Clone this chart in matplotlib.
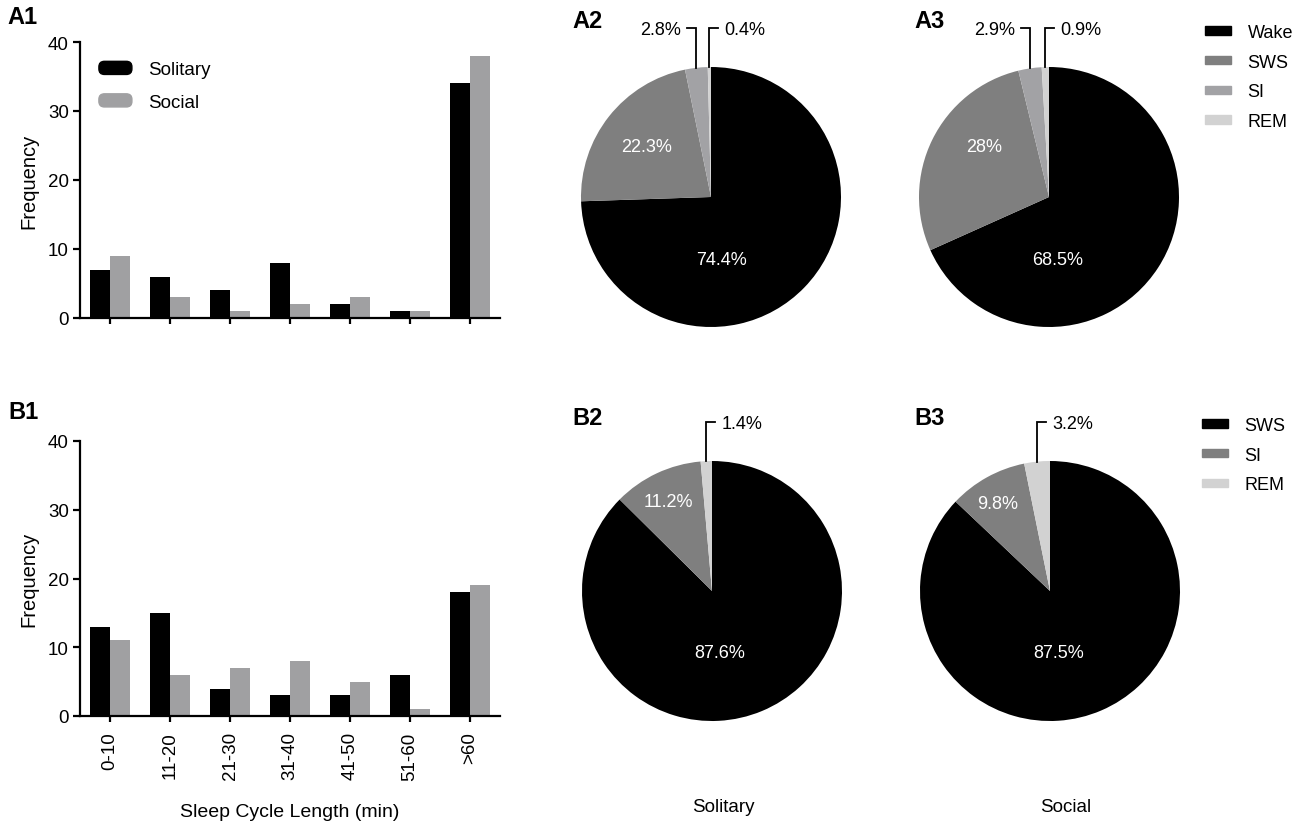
import numpy as np
import matplotlib
matplotlib.use("Agg")
import matplotlib.pyplot as plt
from matplotlib.patches import Patch, FancyBboxPatch
from matplotlib.legend_handler import HandlerPatch

plt.rcParams['font.family'] = ['Liberation Sans', 'DejaVu Sans']

# sleep cycle length histograms
bins = ["0-10", "11-20", "21-30", "31-40", "41-50", "51-60", ">60"]
a1_solitary = [7, 6, 4, 8, 2, 1, 34]
a1_social = [9, 3, 1, 2, 3, 1, 38]
b1_solitary = [13, 15, 4, 3, 3, 6, 18]
b1_social = [11, 6, 7, 8, 5, 1, 19]

# sleep stage proportions (%)
stages_a = ["Wake", "SWS", "SI", "REM"]
a2_solitary = [74.4, 22.3, 2.8, 0.4]
a3_social = [68.5, 28, 2.9, 0.9]
stages_b = ["SWS", "SI", "REM"]
b2_solitary = [87.6, 11.2, 1.4]
b3_social = [87.5, 9.8, 3.2]

colors_a = ["#000000", "#7f7f7f", "#a2a2a5", "#d2d2d2"]
colors_b = ["#000000", "#7f7f7f", "#d2d2d2"]
bar_colors = ["#000000", "#a0a0a2"]

W, H = 1300, 828
fig = plt.figure(figsize=(13, 8.28), dpi=100)


def box(l, t, r, b):
    return [l / W, 1 - b / H, (r - l) / W, (b - t) / H]


def rounded(legend, orig_handle, xdescent, ydescent, width, height, fontsize):
    return FancyBboxPatch((-xdescent, -ydescent), width, height,
                          boxstyle="round,pad=0,rounding_size=4")


def bar_panel(rect, solitary, social, show_labels):
    ax = fig.add_axes(rect)
    x = np.arange(len(bins))
    w = 0.34
    ax.bar(x - w / 2, solitary, w, color=bar_colors[0])
    ax.bar(x + w / 2, social, w, color=bar_colors[1])
    ax.set_xlim(-0.5, len(bins) - 0.5)
    ax.set_ylim(0, 40)
    ax.set_yticks(range(0, 41, 10))
    ax.set_xticks(x)
    if show_labels:
        ax.set_xticklabels(bins, rotation=90)
    else:
        ax.set_xticklabels([])
    for s in ["top", "right"]:
        ax.spines[s].set_visible(False)
    for s in ["left", "bottom"]:
        ax.spines[s].set_linewidth(1.6)
    ax.tick_params(axis='y', length=5, width=1.6, labelsize=13.5, pad=3)
    ax.tick_params(axis='x', length=4, width=1.6, labelsize=13.5, pad=7)
    ax.set_ylabel("Frequency", fontsize=14.5)
    ax.yaxis.set_label_coords(-0.098, 0.5)
    return ax


def pie_panel(rect, values, colors, inner_pos):
    ax = fig.add_axes(rect)
    ax.pie(values, colors=colors, startangle=90, counterclock=False,
           wedgeprops=dict(linewidth=0))
    ax.set_xlim(-1, 1)
    ax.set_ylim(-1, 1)
    ax.set_aspect('equal')
    frac = np.array(values) / sum(values)
    mids = np.cumsum(frac) - frac / 2
    big = [i for i, v in enumerate(values) if v >= 5]
    small = [i for i, v in enumerate(values) if v < 5]
    for i, (px, py) in zip(big, inner_pos):
        ax.text(px, py, f"{values[i]:g}%", color="white", ha="center",
                va="center", fontsize=13)
    for i in small:
        theta = np.deg2rad(90 - 360 * mids[i])
        x0, y0 = np.cos(theta), np.sin(theta)
        side = 1 if i == len(values) - 1 else -1
        ax.plot([x0, x0, x0 + side * 0.07], [y0, 1.30, 1.30], color="black",
                lw=1.3, clip_on=False, solid_joinstyle="miter")
        ax.text(x0 + side * 0.115, 1.29, f"{values[i]:g}%",
                ha="left" if side > 0 else "right", va="center", fontsize=13)
    return ax


# A1 / B1 bar charts
ax_a1 = bar_panel(box(80, 43, 500, 319), a1_solitary, a1_social, False)
ax_a1.legend(handles=[Patch(color=bar_colors[0], label="Solitary"),
                      Patch(color=bar_colors[1], label="Social")],
             handler_map={Patch: HandlerPatch(patch_func=rounded)},
             loc="upper left", bbox_to_anchor=(0.045, 0.93), frameon=False,
             fontsize=13.5, handlelength=1.76, handleheight=0.7,
             handletextpad=0.85, labelspacing=0.82, borderpad=0, borderaxespad=0)

ax_b1 = bar_panel(box(80, 442, 500, 717), b1_solitary, b1_social, True)
ax_b1.set_xlabel("Sleep Cycle Length (min)", fontsize=14)
ax_b1.xaxis.set_label_coords(0.5, -0.315)

# pies
pie_panel(box(581, 68, 841, 328), a2_solitary, colors_a,
          [(0.077, -0.477), (-0.496, 0.392)])
pie_panel(box(919, 68, 1179, 328), a3_social, colors_a,
          [(0.066, -0.477), (-0.5, 0.392)])
pie_panel(box(582, 462, 842, 722), b2_solitary, colors_b,
          [(0.062, -0.47), (-0.336, 0.69)])
pie_panel(box(920, 462, 1180, 722), b3_social, colors_b,
          [(0.07, -0.47), (-0.40, 0.67)])

leg_kw = dict(loc="upper left", frameon=False, fontsize=13, handlelength=1.45,
              handleheight=0.33, handletextpad=0.9, labelspacing=0.7,
              borderpad=0, borderaxespad=0)
fig.legend(handles=[Patch(color=c, label=s) for s, c in zip(stages_a, colors_a)],
           bbox_to_anchor=(1205 / W, 1 - 25 / H), **leg_kw)
fig.legend(handles=[Patch(color=c, label=s) for s, c in zip(stages_b, colors_b)],
           bbox_to_anchor=(1202 / W, 1 - 418 / H), **leg_kw)

fig.text(723 / W, 1 - 808 / H, "Solitary", ha="center", va="center", fontsize=13.5)
fig.text(1066 / W, 1 - 808 / H, "Social", ha="center", va="center", fontsize=13.5)

# panel letters
for lab, px, py in [("A1", 7, 18), ("A2", 572, 22), ("A3", 914, 22),
                    ("B1", 8, 413), ("B2", 572, 419), ("B3", 914, 419)]:
    fig.text(px / W, 1 - py / H, lab, fontsize=17, fontweight="bold",
             ha="left", va="center")

fig.savefig("out.png", dpi=100)
